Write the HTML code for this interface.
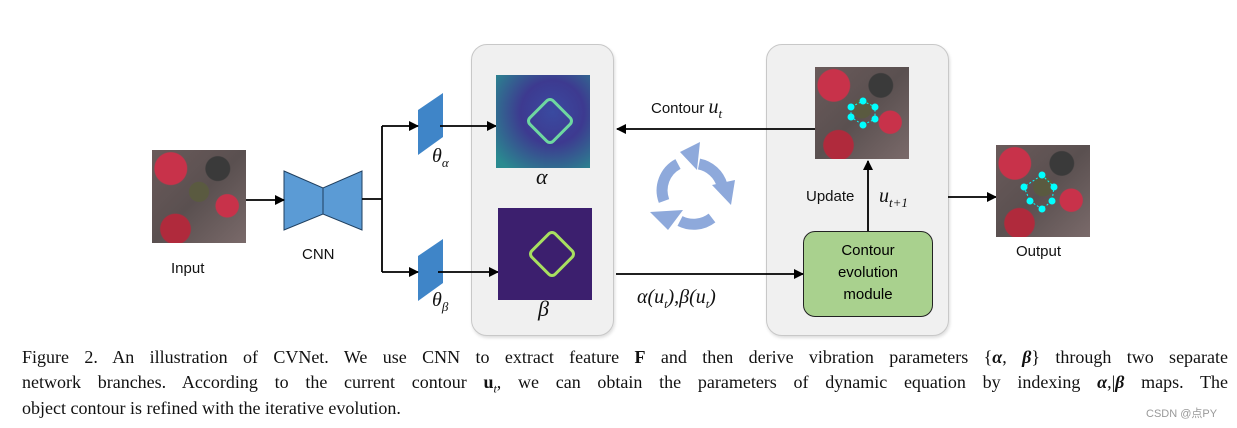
<!DOCTYPE html>
<html><head><meta charset="utf-8"><style>
body{margin:0;width:1237px;height:428px;background:#fff;position:relative;overflow:hidden;font-family:"Liberation Sans",sans-serif}
.a{position:absolute}
.panel{position:absolute;background:#f0f0f0;border:1.5px solid #c8c8c8;border-radius:16px;box-shadow:1px 2px 3px #ddd}
.aer{position:absolute;background:
radial-gradient(circle at 70% 20%,#3a3a3a 0 12%,transparent 13%),
radial-gradient(circle at 50% 45%,#5a5a40 0 14%,transparent 15%),
radial-gradient(circle at 20% 20%,#c8324a 0 15%,transparent 16%),
radial-gradient(circle at 80% 60%,#c8324a 0 12%,transparent 13%),
radial-gradient(circle at 25% 85%,#b02a3c 0 14%,transparent 15%),
linear-gradient(135deg,#6a5a5a,#5a5050 50%,#7a6a6a);}
.lbl{position:absolute;font-size:15px;color:#111}
.m{font-family:"Liberation Serif",serif;font-style:italic;position:absolute;color:#111}
.cl{position:absolute;left:22px;width:1206px;font-family:"Liberation Serif",serif;font-size:18px;line-height:24px;color:#111;white-space:nowrap}
.j{text-align:justify;text-align-last:justify;white-space:normal}
</style></head><body>
<div class="panel" style="left:471px;top:44px;width:141px;height:290px"></div>
<div class="panel" style="left:766px;top:44px;width:181px;height:290px"></div>

<div class="aer" style="left:152px;top:150px;width:94px;height:93px"></div>
<div class="lbl" style="left:171px;top:260px">Input</div>
<svg class="a" style="left:0;top:0" width="1237" height="340">
<defs><marker id="ar" markerWidth="10" markerHeight="10" refX="9" refY="5" orient="auto" markerUnits="userSpaceOnUse"><path d="M0,0 L10,5 L0,10 Z" fill="#000"/></marker></defs>
<polygon points="284,171 323,188 362,171 362,230 323,214 284,230" fill="#5b9bd5" stroke="#1f3f5f" stroke-width="1"/>
<line x1="323" y1="188" x2="323" y2="214" stroke="#1f3f5f"/>
<polygon points="418,110 443,93 443,137 418,155" fill="#3f85c8"/>
<polygon points="418,256 443,239 443,283 418,301" fill="#3f85c8"/>
<g stroke="#000" stroke-width="1.8" fill="none">
<line x1="246" y1="200" x2="284" y2="200" marker-end="url(#ar)"/>
<polyline points="362,199 382,199"/>
<polyline points="382,126 382,272"/>
<line x1="382" y1="126" x2="418" y2="126" marker-end="url(#ar)"/>
<line x1="382" y1="272" x2="418" y2="272" marker-end="url(#ar)"/>
<line x1="440" y1="126" x2="496" y2="126" marker-end="url(#ar)"/>
<line x1="438" y1="272" x2="498" y2="272" marker-end="url(#ar)"/>
<line x1="815" y1="129" x2="617" y2="129" marker-end="url(#ar)"/>
<line x1="616" y1="274" x2="803" y2="274" marker-end="url(#ar)"/>
<line x1="868" y1="231" x2="868" y2="161" marker-end="url(#ar)"/>
<line x1="948" y1="197" x2="996" y2="197" marker-end="url(#ar)"/>
</g>
<g fill="none" stroke="#8ea9db" stroke-width="11">
<path d="M699,164 A30,30 0 0 1 722,185"/>
<path d="M712,218 A30,30 0 0 1 680,221"/>
<path d="M664,201 A30,30 0 0 1 678,164"/>
</g>
<g fill="#8ea9db">
<polygon points="712,185 735,180 731,205"/>
<polygon points="683,210 668,230 650,212"/>
<polygon points="680,152 700,142 697,170"/>
</g>
</svg>
<div class="lbl" style="left:302px;top:246px">CNN</div>
<div class="m" style="left:432px;top:145px;font-size:20px">θ<sub style="font-size:13px">α</sub></div>
<div class="m" style="left:432px;top:289px;font-size:20px">θ<sub style="font-size:13px">β</sub></div>

<div class="a" style="left:496px;top:75px;width:94px;height:93px;background:radial-gradient(circle at 60% 40%,#3a4aa0,#3d3a90 40%,#2a8a90 90%)">
<div class="a" style="left:36px;top:28px;width:30px;height:30px;border:3px solid #6ed8a0;border-radius:6px;transform:rotate(45deg)"></div></div>
<div class="a" style="left:498px;top:208px;width:94px;height:92px;background:#3c1f6e">
<div class="a" style="left:36px;top:28px;width:30px;height:30px;border:3px solid #a8e060;border-radius:6px;transform:rotate(45deg)"></div></div>
<div class="m" style="left:536px;top:164px;font-size:22px">α</div>
<div class="m" style="left:538px;top:296px;font-size:22px">β</div>

<div class="lbl" style="left:651px;top:96px">Contour <span style="font-family:'Liberation Serif',serif;font-style:italic;font-size:20px">u<sub style="font-size:13px">t</sub></span></div>
<div class="m" style="left:637px;top:286px;font-size:20px">α(u<sub style="font-size:12px">t</sub>),β(u<sub style="font-size:12px">t</sub>)</div>

<div class="aer" style="left:815px;top:67px;width:94px;height:92px"></div>
<svg class="a" style="left:815px;top:67px" width="94" height="92"><polygon points="48,34 60,40 60,52 48,58 36,50 36,40" fill="none" stroke="#0ff" stroke-dasharray="2,2"/><g fill="#0ff"><circle cx="48" cy="34" r="3.5"/><circle cx="60" cy="40" r="3.5"/><circle cx="60" cy="52" r="3.5"/><circle cx="48" cy="58" r="3.5"/><circle cx="36" cy="50" r="3.5"/><circle cx="36" cy="40" r="3.5"/></g></svg>
<div class="lbl" style="left:806px;top:188px">Update</div>
<div class="m" style="left:879px;top:185px;font-size:20px">u<sub style="font-size:13px">t+1</sub></div>
<div class="a" style="left:803px;top:231px;background:#a9d18e;border:1.5px solid #222;border-radius:12px;font-size:15px;text-align:center;line-height:22px;padding-top:8px;box-sizing:border-box;width:130px;height:86px">Contour<br>evolution<br>module</div>

<div class="aer" style="left:996px;top:145px;width:94px;height:92px"></div>
<svg class="a" style="left:996px;top:145px" width="94" height="92"><polygon points="46,30 58,42 56,56 46,64 34,56 28,42" fill="none" stroke="#0ff" stroke-dasharray="2,2"/><g fill="#0ff"><circle cx="46" cy="30" r="3.5"/><circle cx="58" cy="42" r="3.5"/><circle cx="56" cy="56" r="3.5"/><circle cx="46" cy="64" r="3.5"/><circle cx="34" cy="56" r="3.5"/><circle cx="28" cy="42" r="3.5"/></g></svg>
<div class="lbl" style="left:1016px;top:243px">Output</div>

<div class="cl j" style="top:345px;height:24px;overflow:hidden">Figure 2. An illustration of CVNet. We use CNN to extract feature <b>F</b> and then derive vibration parameters {<b><i>α</i></b>, <b><i>β</i></b>} through two separate</div>
<div class="cl j" style="top:370px;height:24px;overflow:hidden">network branches. According to the current contour <b>u</b><i><sub style="font-size:12px;line-height:0">t</sub></i>, we can obtain the parameters of dynamic equation by indexing <b><i>α</i></b>,|<b><i>β</i></b> maps. The</div>
<div class="cl" style="top:396px">object contour is refined with the iterative evolution.</div>
<div class="a" style="left:1146px;top:405px;font-size:11px;color:#999">CSDN @点PY</div>
</body></html>
